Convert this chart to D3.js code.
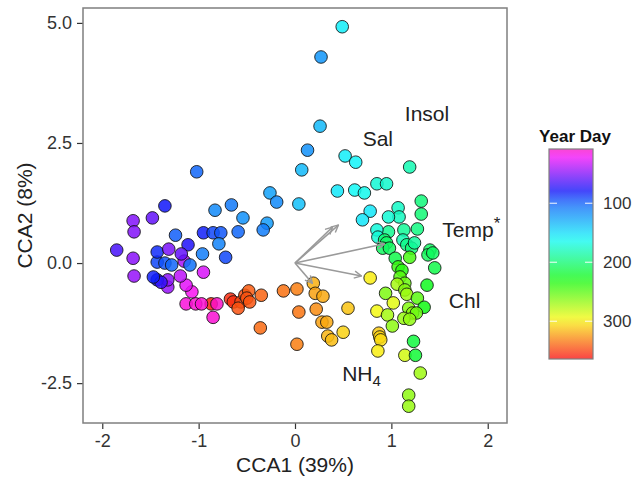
<!DOCTYPE html>
<html>
<head>
<meta charset="utf-8">
<script src="https://cdn.jsdelivr.net/npm/d3@7"></script>
<style>
  html, body { margin: 0; padding: 0; background: #fff; }
  svg { display: block; font-family: "Liberation Sans", Arial, Helvetica, sans-serif; }
</style>
</head>
<body>
<svg id="chart" width="634" height="480"></svg>
<script>
// Site scores on the first two CCA axes, coloured by year day
const cca1 = [0.49,0.27,0.26,0.13,0.52,0.63,0.07,1.19,0.44,0.62,0.72,0.85,0.95,0.04,1.31,1.31,0.78,0.70,1.07,1.08,
  0.97,1.27,1.13,0.97,0.85,0.86,0.93,0.95,0.91,0.98,1.12,1.16,1.21,1.24,1.40,1.38,1.43,1.19,1.04,1.07,
  1.11,1.45,1.09,1.14,0.78,1.06,1.14,1.16,1.37,0.94,1.27,1.34,1.02,1.18,1.22,1.26,0.85,0.96,1.13,1.19,
  1.01,0.87,0.88,0.89,1.23,0.86,1.14,1.25,1.30,1.18,1.18,
  0.02,0.19,0.21,0.29,0.04,0.22,0.55,0.28,0.33,0.50,0.34,0.38,0.02,-0.12,-0.35,-0.36,
  -0.67,-0.64,-0.56,-0.52,-0.48,-0.50,-0.47,-0.59,
  -0.87,-0.81,-1.13,-1.03,-0.97,-0.85,-1.07,-1.13,-1.19,-1.32,-1.32,-1.43,-1.39,-1.47,-1.67,-0.95,
  -1.43,-1.35,-1.28,-1.15,-1.09,-1.85,-1.68,-1.43,-1.31,-1.11,-1.18,-0.96,-0.72,-1.24,-0.95,-0.85,
  -0.77,-0.59,-0.79,-1.68,-1.67,-1.48,-1.35,-0.83,-0.66,-0.54,-1.02,-0.26,-0.19,-0.29,-0.33];
const cca2 = [4.92,4.29,2.85,2.35,2.23,2.10,1.94,2.00,1.50,1.52,1.46,1.65,1.65,1.23,1.29,1.02,1.08,0.90,1.15,0.96,
  0.96,0.71,0.69,0.65,0.69,0.54,0.48,0.42,0.31,0.31,0.48,0.38,0.31,0.42,0.27,0.17,0.21,0.12,0.10,-0.08,
  -0.15,-0.10,-0.29,-0.42,-0.31,-0.44,-0.56,-0.65,-0.46,-0.63,-0.73,-0.92,-0.83,-0.94,-1.04,-1.04,-1.00,-1.08,-1.15,-1.17,
  -1.31,-1.46,-1.54,-1.60,-1.63,-1.83,-1.92,-1.92,-2.29,-2.75,-2.98,
  -0.54,-0.42,-0.63,-0.69,-1.02,-0.96,-0.94,-1.23,-1.23,-1.44,-1.52,-1.60,-1.69,-0.58,-0.67,-1.35,
  -0.75,-0.81,-0.81,-0.67,-0.58,-0.73,-0.81,-0.94,
  -0.85,-0.85,-0.85,-0.85,-0.85,-1.13,-0.60,-0.46,-0.27,-0.50,-0.35,-0.35,-0.40,-0.29,-0.27,-0.19,
  0.02,0.00,-0.04,0.04,-0.04,0.27,0.10,0.23,0.29,0.38,0.19,0.19,0.12,0.58,0.63,0.63,
  0.63,0.65,0.40,0.88,0.65,0.94,1.19,1.10,1.21,0.94,1.90,1.46,1.27,0.83,0.69];
const yearDay = [158,120,135,118,158,160,135,182,155,162,165,172,174,138,198,200,155,154,176,178,
  172,196,190,192,170,172,202,204,206,206,182,194,200,188,205,208,206,245,212,240,
  235,212,250,255,300,272,262,270,225,260,250,228,290,262,265,255,295,272,268,266,
  265,310,308,305,215,300,285,218,270,265,268,
  332,318,322,320,335,328,312,322,320,308,316,314,332,336,340,338,
  356,355,348,346,342,345,344,345,
  360,8,12,10,10,10,18,25,35,45,48,80,70,82,45,28,
  92,95,100,40,105,65,48,85,52,75,58,110,92,98,82,92,
  96,100,112,50,50,58,80,115,108,118,100,125,115,122,110];

// Environmental vectors (arrow tips) and their label positions
const envNames = ["Sal", "Insol", "Temp", "Chl", "NH4"];
const envX = [0.39, 0.45, 0.93, 0.69, 0.18];
const envY = [0.75, 0.79, 0.40, -0.27, -0.42];
const envLabelX = [0.86, 1.37, 1.83, 1.76, 0.69];
const envLabelY = [2.60, 3.12, 0.71, -0.77, -2.29];

const xTicks = [-2, -1, 0, 1, 2];
const yTicks = [-2.5, 0, 2.5, 5];
const legendTicks = [100, 200, 300];
const dayRange = [8, 364];

const svg = d3.select("#chart");
const panel = { left: 83, right: 507, top: 8, bottom: 423 };

const x = d3.scaleLinear().domain([-2.2, 2.2]).range([panel.left, panel.right]);
const y = d3.scaleLinear().domain([-3.33, 5.31]).range([panel.bottom, panel.top]);
// Cyclic rainbow: pink in early January, through blue and green, to red at year end
const hue = d3.scaleLinear().domain([8, 100, 159, 364]).range([312, 218, 182, 0]);
const dayColor = d => d3.hsl(hue(d), 0.95, 0.52).formatHex();
const hyphen = f => d => f(d).replace("\u2212", "-");

// Defs: arrowhead and legend gradient
const defs = svg.append("defs");
defs.append("marker")
  .attr("id", "head")
  .attr("viewBox", "0 0 10 10")
  .attr("refX", 9).attr("refY", 5)
  .attr("markerWidth", 9).attr("markerHeight", 9)
  .attr("markerUnits", "userSpaceOnUse")
  .attr("orient", "auto")
  .append("path")
  .attr("d", "M1,1 L9,5 L1,9")
  .attr("fill", "none")
  .attr("stroke", "#9a9a9a")
  .attr("stroke-width", 1.6);

const grad = defs.append("linearGradient")
  .attr("id", "dayGrad")
  .attr("x1", 0).attr("y1", 0).attr("x2", 0).attr("y2", 1);
d3.range(0, 1.0001, 0.04).forEach(t => {
  const d = dayRange[0] + t * (dayRange[1] - dayRange[0]);
  grad.append("stop").attr("offset", t).attr("stop-color", dayColor(d));
});

// Panel background
svg.append("rect")
  .attr("x", panel.left).attr("y", panel.top)
  .attr("width", panel.right - panel.left).attr("height", panel.bottom - panel.top)
  .attr("fill", "#fff");

// Axes
const xAxis = d3.axisBottom(x).tickValues(xTicks).tickSize(6).tickPadding(5).tickFormat(hyphen(d3.format("d")));
const yAxis = d3.axisLeft(y).tickValues(yTicks).tickSize(6).tickPadding(5).tickFormat(hyphen(d3.format(".1f")));

const gx = svg.append("g").attr("transform", `translate(0,${panel.bottom})`).call(xAxis);
const gy = svg.append("g").attr("transform", `translate(${panel.left},0)`).call(yAxis);
[gx, gy].forEach(g => {
  g.select(".domain").remove();
  g.selectAll(".tick line").attr("stroke", "#333").attr("stroke-width", 1.2);
  g.selectAll(".tick text").attr("fill", "#333").style("font-size", "18px");
});

// Site points
svg.append("g")
  .selectAll("circle")
  .data(yearDay.map((d, i) => ({ day: d, a: cca1[i], b: cca2[i] })))
  .join("circle")
  .attr("cx", d => x(d.a))
  .attr("cy", d => y(d.b))
  .attr("r", 6.3)
  .attr("fill", d => dayColor(d.day))
  .attr("fill-opacity", 0.85)
  .attr("stroke", "#111")
  .attr("stroke-opacity", 0.85)
  .attr("stroke-width", 1);

// Environmental arrows
svg.append("g")
  .selectAll("line")
  .data(envNames.map((n, i) => ({ n, ex: envX[i], ey: envY[i] })))
  .join("line")
  .attr("x1", x(0)).attr("y1", y(0))
  .attr("x2", d => x(d.ex)).attr("y2", d => y(d.ey))
  .attr("stroke", "#9a9a9a")
  .attr("stroke-width", 1.6)
  .attr("marker-end", "url(#head)");

// Arrow labels
const labels = svg.append("g")
  .selectAll("text")
  .data(envNames.map((n, i) => ({ n, lx: envLabelX[i], ly: envLabelY[i] })))
  .join("text")
  .attr("x", d => x(d.lx))
  .attr("y", d => y(d.ly))
  .attr("text-anchor", "middle")
  .attr("dy", "0.36em")
  .attr("fill", "#222")
  .style("font-size", "21px");
labels.each(function(d) {
  const t = d3.select(this);
  if (d.n === "Temp") {
    t.append("tspan").text("Temp");
    t.append("tspan").text("*").attr("dy", "-0.45em").style("font-size", "17px");
  } else if (d.n === "NH4") {
    t.append("tspan").text("NH");
    t.append("tspan").text("4").attr("dy", "0.35em").style("font-size", "15px");
  } else {
    t.text(d.n);
  }
});

// Panel border on top
svg.append("rect")
  .attr("x", panel.left).attr("y", panel.top)
  .attr("width", panel.right - panel.left).attr("height", panel.bottom - panel.top)
  .attr("fill", "none")
  .attr("stroke", "#7f7f7f")
  .attr("stroke-width", 1.5);

// Axis titles
svg.append("text")
  .attr("x", (panel.left + panel.right) / 2).attr("y", 472)
  .attr("text-anchor", "middle")
  .attr("fill", "#222")
  .style("font-size", "21px")
  .text("CCA1 (39%)");
svg.append("text")
  .attr("transform", `translate(32,${(panel.top + panel.bottom) / 2}) rotate(-90)`)
  .attr("text-anchor", "middle")
  .attr("fill", "#222")
  .style("font-size", "21px")
  .text("CCA2 (8%)");

// Colour bar legend
const ly = d3.scaleLinear().domain(dayRange).range([149, 359]);
const bar = { x: 549, w: 44 };
svg.append("text")
  .attr("x", 575).attr("y", 142)
  .attr("text-anchor", "middle")
  .attr("fill", "#111")
  .style("font-size", "17px")
  .style("font-weight", "bold")
  .text("Year Day");
svg.append("rect")
  .attr("x", bar.x).attr("y", ly(dayRange[0]))
  .attr("width", bar.w).attr("height", ly(dayRange[1]) - ly(dayRange[0]))
  .attr("fill", "url(#dayGrad)")
  .attr("fill-opacity", 0.78);
const lg = svg.append("g");
legendTicks.forEach(t => {
  lg.append("line").attr("x1", bar.x).attr("x2", bar.x + 8)
    .attr("y1", ly(t)).attr("y2", ly(t)).attr("stroke", "#fff").attr("stroke-width", 1.2).attr("stroke-opacity", 0.8);
  lg.append("line").attr("x1", bar.x + bar.w - 8).attr("x2", bar.x + bar.w)
    .attr("y1", ly(t)).attr("y2", ly(t)).attr("stroke", "#fff").attr("stroke-width", 1.2).attr("stroke-opacity", 0.8);
  lg.append("text")
    .attr("x", 603).attr("y", ly(t)).attr("dy", "0.36em")
    .attr("fill", "#333")
    .style("font-size", "17px")
    .text(t);
});
svg.append("rect")
  .attr("x", bar.x).attr("y", ly(dayRange[0]))
  .attr("width", bar.w).attr("height", ly(dayRange[1]) - ly(dayRange[0]))
  .attr("fill", "none")
  .attr("stroke", "#7f7f7f")
  .attr("stroke-width", 1.2);
</script>
</body>
</html>
